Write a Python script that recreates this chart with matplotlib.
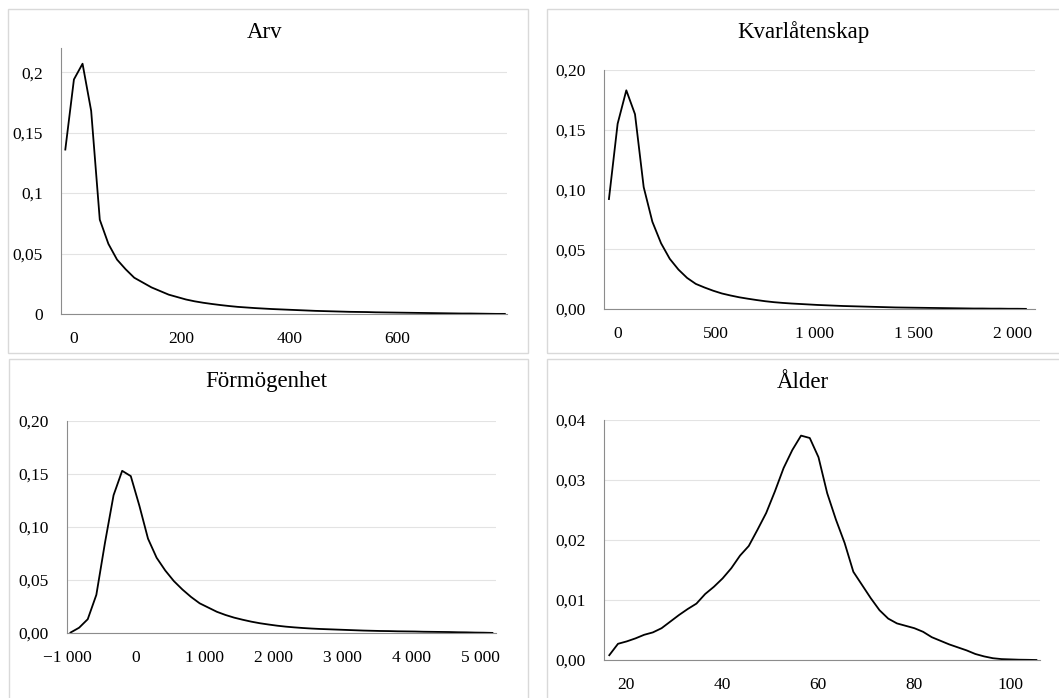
import numpy as np
import matplotlib.pyplot as plt
from matplotlib.patches import Rectangle
from matplotlib.ticker import FuncFormatter

plt.rcParams['font.family'] = ['Liberation Serif', 'DejaVu Serif']

# Arv (inheritance)
arv_x = np.arange(-16, 801, 16)
arv_y = [0.136, 0.194, 0.207, 0.168, 0.078, 0.058, 0.045, 0.037, 0.030, 0.026,
         0.022, 0.019, 0.016, 0.014, 0.012, 0.0105, 0.0093, 0.0083, 0.0074, 0.0066,
         0.0059, 0.0054, 0.0049, 0.0045, 0.0041, 0.0038, 0.0035, 0.0032, 0.0029, 0.0026,
         0.0024, 0.0022, 0.0020, 0.0018, 0.0017, 0.0016, 0.0014, 0.0013, 0.0012, 0.0011,
         0.0010, 0.0009, 0.0008, 0.0007, 0.0006, 0.0005, 0.0004, 0.0004, 0.0003, 0.0002,
         0.0001, 0.0001]

# Kvarlåtenskap (estate)
kvar_x = np.arange(-42, 2071, 44)
kvar_y = [0.092, 0.155, 0.183, 0.163, 0.102, 0.073, 0.055, 0.042, 0.033, 0.026,
          0.021, 0.018, 0.0153, 0.013, 0.0113, 0.0098, 0.0086, 0.0075, 0.0065, 0.0057,
          0.0051, 0.0046, 0.0042, 0.0038, 0.0034, 0.0031, 0.0028, 0.0025, 0.0023, 0.0021,
          0.0019, 0.0017, 0.0015, 0.0013, 0.0012, 0.0011, 0.0010, 0.0009, 0.0008, 0.0007,
          0.0006, 0.0005, 0.0004, 0.0004, 0.0003, 0.0003, 0.0002, 0.0002, 0.0001]

# Förmögenhet (wealth)
form_x = np.arange(-950, 5176, 125)
form_y = [0.0004, 0.005, 0.013, 0.036, 0.085, 0.130, 0.153, 0.148, 0.120, 0.089,
          0.071, 0.059, 0.049, 0.041, 0.034, 0.028, 0.024, 0.020, 0.017, 0.0145,
          0.0125, 0.0107, 0.0092, 0.0080, 0.0069, 0.0060, 0.0053, 0.0047, 0.0042, 0.0038,
          0.0035, 0.0032, 0.0029, 0.0026, 0.0023, 0.0021, 0.0019, 0.0018, 0.0016, 0.0015,
          0.0014, 0.0012, 0.0011, 0.0010, 0.0009, 0.0007, 0.0006, 0.0004, 0.0003, 0.0001]

# Ålder (age)
alder_x = np.linspace(16.5, 105.5, 50)
alder_y = [0.0008, 0.0027, 0.0031, 0.0036, 0.0042, 0.0046, 0.0053, 0.0064, 0.0075, 0.0085,
           0.0094, 0.0110, 0.0122, 0.0136, 0.0153, 0.0174, 0.0190, 0.0217, 0.0245, 0.0281,
           0.0320, 0.0350, 0.0374, 0.0370, 0.0338, 0.0278, 0.0234, 0.0195, 0.0147, 0.0125,
           0.0103, 0.0083, 0.0069, 0.0061, 0.0057, 0.0053, 0.0047, 0.0038, 0.0032, 0.0026,
           0.0021, 0.0016, 0.0010, 0.0006, 0.0003, 0.00015, 0.0001, 0.00005, 0.00003, 0.0]

W, H = 1059, 698
fig = plt.figure(figsize=(W / 100, H / 100), dpi=100)


def px_axes(left, top, right, bottom):
    return fig.add_axes([left / W, 1 - bottom / H, (right - left) / W, (bottom - top) / H])


def panel_box(left, top, right, bottom):
    fig.patches.append(Rectangle((left / W, 1 - bottom / H), (right - left) / W, (bottom - top) / H,
                                 transform=fig.transFigure, fill=False, edgecolor='#d9d9d9', lw=1.0))


def sv(v, dec):
    s = f'{abs(v):,.{dec}f}'.replace(',', ' ').replace('.', ',')
    return ('\u2212' if v < 0 else '') + s


def style(ax, x, y, title, tx, ty, xlim, ylim, yticks, yfmt, xticks):
    ax.plot(x, y, color='black', lw=1.3)
    ax.set_xlim(*xlim)
    ax.set_ylim(*ylim)
    ax.set_yticks(yticks)
    ax.yaxis.set_major_formatter(FuncFormatter(yfmt))
    ax.set_xticks(xticks)
    ax.xaxis.set_major_formatter(FuncFormatter(lambda v, p: sv(v, 0)))
    for s in ['top', 'right']:
        ax.spines[s].set_visible(False)
    for s in ['left', 'bottom']:
        ax.spines[s].set_color('#8c8c8c')
        ax.spines[s].set_linewidth(0.8)
    ax.grid(axis='y', color='#e3e3e3', lw=0.8)
    ax.set_axisbelow(True)
    ax.tick_params(length=0, labelsize=12.5, colors='black')
    ax.tick_params(axis='y', pad=13)
    ax.tick_params(axis='x', pad=12)
    fig.text(tx / W, 1 - ty / H, title, ha='center', va='center', fontsize=16.5)


panel_box(8, 9, 528, 353)
panel_box(547, 9, 1070, 353)
panel_box(9, 359, 528, 710)
panel_box(547, 359, 1070, 710)

ax1 = px_axes(61, 48, 507, 314)
style(ax1, arv_x, arv_y, 'Arv', 265, 32, (-24, 804), (0, 0.22),
      [0, 0.05, 0.1, 0.15, 0.2], lambda v, p: ('%g' % round(v, 3)).replace('.', ','),
      [0, 200, 400, 600])

ax2 = px_axes(604, 70, 1035, 309)
style(ax2, kvar_x, kvar_y, 'Kvarlåtenskap', 803, 32, (-67, 2116), (0, 0.20),
      [0, 0.05, 0.10, 0.15, 0.20], lambda v, p: sv(v, 2),
      [0, 500, 1000, 1500, 2000])

ax3 = px_axes(67, 421, 496, 633)
style(ax3, form_x, form_y, 'Förmögenhet', 266, 382, (-1001, 5227), (0, 0.20),
      [0, 0.05, 0.10, 0.15, 0.20], lambda v, p: sv(v, 2),
      [-1000, 0, 1000, 2000, 3000, 4000, 5000])

ax4 = px_axes(604, 420, 1040, 660)
style(ax4, alder_x, alder_y, 'Ålder', 803, 382, (15.4, 106.25), (0, 0.04),
      [0, 0.01, 0.02, 0.03, 0.04], lambda v, p: sv(v, 2),
      [20, 40, 60, 80, 100])

fig.savefig('out.png', dpi=100, facecolor='white')
